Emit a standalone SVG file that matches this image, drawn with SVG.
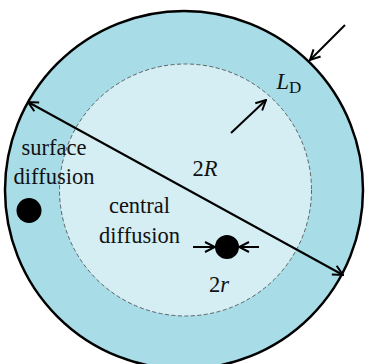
<svg xmlns="http://www.w3.org/2000/svg" width="366" height="364" viewBox="0 0 366 364">
<style>
.t{font-family:'Liberation Serif','DejaVu Serif',serif;font-size:22.5px;fill:#111;text-anchor:middle}
.i{font-style:italic}
.ln{stroke:#000;stroke-width:2;fill:none}
</style>
<defs>
<marker id="ah" viewBox="0 0 12 12" refX="11" refY="6" markerWidth="12" markerHeight="12" markerUnits="userSpaceOnUse" orient="auto-start-reverse">
<path d="M1,1 L11,6 L1,11" fill="none" stroke="#000" stroke-width="2"/>
</marker>
</defs>
<rect width="366" height="364" fill="#fff"/>
<g id="outer">
<circle cx="184" cy="190" r="179" fill="#a8dde8" stroke="#000" stroke-width="2.5"/>
</g>
<g id="inner">
<circle cx="185.5" cy="190" r="126" fill="#d4eef4" stroke="#555" stroke-width="0.9" stroke-dasharray="4 2.5"/>
</g>
<g id="connectors">
<line class="ln" x1="28" y1="102" x2="343" y2="275" marker-start="url(#ah)" marker-end="url(#ah)"/>
<line class="ln" x1="345" y1="25" x2="310" y2="60" marker-end="url(#ah)"/>
<line class="ln" x1="231" y1="133" x2="266" y2="100" marker-end="url(#ah)"/>
<line class="ln" x1="193" y1="247" x2="215" y2="247" marker-end="url(#ah)"/>
<line class="ln" x1="259" y1="247" x2="239" y2="247" marker-end="url(#ah)"/>
</g>
<g id="dot-surface"><circle cx="29" cy="210.5" r="12.5" fill="#000"/></g>
<g id="dot-central"><circle cx="227" cy="247" r="12" fill="#000"/></g>
<g font-family="Liberation Serif, DejaVu Serif, serif">
<g id="label-LD"><text class="t" x="289" y="89" font-size="24"><tspan class="i">L</tspan><tspan font-size="17" dy="4">D</tspan></text></g>
<g id="label-2R"><text class="t" x="205" y="176" font-size="24">2<tspan class="i">R</tspan></text></g>
<g id="label-surface"><text class="t" x="54" y="155">surface</text><text class="t" x="54" y="184">diffusion</text></g>
<g id="label-central"><text class="t" x="139.5" y="213">central</text><text class="t" x="139.5" y="243">diffusion</text></g>
<g id="label-2r"><text class="t" x="219" y="292" font-size="24">2<tspan class="i">r</tspan></text></g>
</g>
</svg>
